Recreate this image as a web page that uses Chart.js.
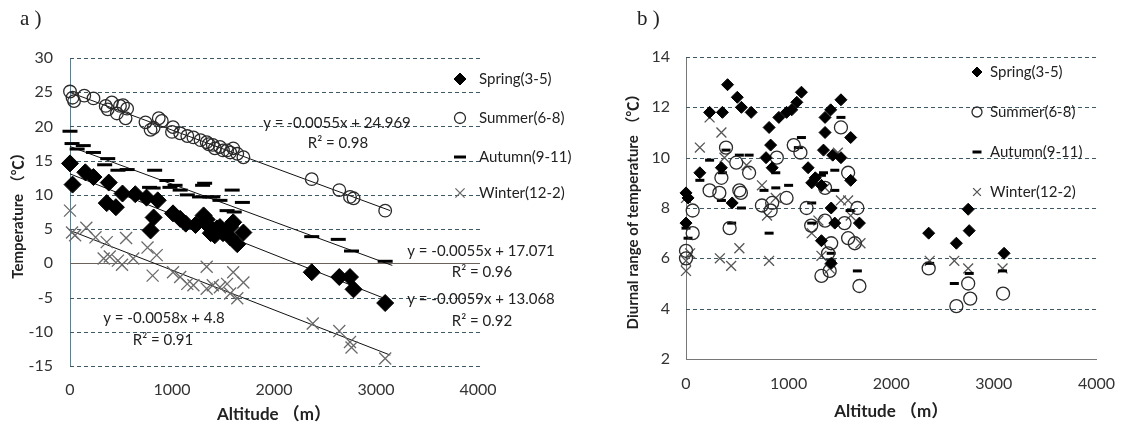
<!DOCTYPE html>
<html><head><meta charset="utf-8">
<script src="https://cdn.jsdelivr.net/npm/chart.js@4.4.1/dist/chart.umd.min.js"></script>
<style>
html,body{margin:0;padding:0;background:#fff;}
#wrap{position:relative;width:1130px;height:426px;overflow:hidden;}
#cA{position:absolute;left:0;top:0;}
#cB{position:absolute;left:600px;top:0;}
</style></head><body>
<div id="wrap"><canvas id="cA" width="600" height="426"></canvas><canvas id="cB" width="530" height="426"></canvas></div>
<script>
// ---------- Panel a) seasonal mean temperature vs altitude ----------
const springAltA = [0,25,150,230,380,360,450,515,640,750,860,820,790,1010,1080,1135,1230,1310,1340,1355,1380,1440,1470,1500,1570,1570,1600,1640,1700,1420,2370,2640,2745,2780,3090];
const springTempA = [14.6,11.5,13.3,12.6,11.8,8.8,8.2,10.2,10.1,9.6,9.2,6.7,4.8,7.3,6.5,5.8,5.6,7.0,6.4,5.5,4.4,5.1,5.3,4.4,3.8,5.3,6.0,2.8,4.5,4.1,-1.3,-2.0,-2.0,-3.8,-5.8];

const summerAltA = [0,25,40,140,230,350,370,410,460,490,520,545,560,740,790,820,870,900,1000,1010,1080,1150,1210,1280,1340,1360,1400,1420,1470,1500,1540,1570,1600,1640,1700,2370,2640,2745,2780,3090];
const summerTempA = [25.1,24.2,23.7,24.5,24.1,23.0,22.5,23.5,21.9,23.0,23.1,21.2,22.6,20.6,19.5,19.8,21.2,20.8,19.2,19.9,19.0,18.6,18.4,18.0,17.7,17.4,17.3,16.8,17.0,16.5,16.5,16.2,16.8,16.0,15.5,12.3,10.7,9.7,9.5,7.7];

const autumnAltA = [0,20,70,130,230,340,370,470,560,780,830,815,950,980,1030,1080,1150,1270,1300,1320,1370,1400,1470,1540,1590,1610,1690,2370,2630,2760,3090];
const autumnTempA = [19.3,17.5,16.7,17.2,16.2,14.4,15.3,13.6,13.7,11.1,13.6,11.0,12.1,11.1,11.4,10.7,10.0,9.7,11.4,11.7,9.7,9.7,9.2,7.7,10.7,7.5,8.9,3.9,3.5,1.8,0.3];

const winterAltA = [0,20,50,160,250,330,360,390,470,510,550,620,760,810,850,1010,1080,1150,1210,1340,1340,1400,1470,1540,1570,1600,1640,1700,2380,2640,2745,2760,3090];
const winterTempA = [7.7,4.5,4.1,5.2,3.8,0.7,3.1,1.0,0.4,-0.2,3.7,0.7,2.3,-1.8,1.2,-1.3,-2.0,-3.0,-3.2,-0.5,-3.7,-3.2,-3.5,-3.0,-4.4,-1.3,-5.1,-2.8,-8.8,-9.9,-11.5,-12.3,-13.9];

// linear trend lines (end points)
const summerTrendAlt = [0,3140];  const summerTrendT = [24.97,7.70];
const autumnTrendAlt = [0,3160];  const autumnTrendT = [17.07,-0.31];
const springTrendAlt = [0,3140];  const springTrendT = [13.07,-5.46];
const winterTrendAlt = [0,3140];  const winterTrendT = [4.80,-13.41];

const eqTextsA = ['y = -0.0055x + 24.969','R² = 0.98','y = -0.0055x + 17.071','R² = 0.96','y = -0.0059x + 13.068','R² = 0.92','y = -0.0058x + 4.8','R² = 0.91'];
const yTicksA = [-15,-10,-5,0,5,10,15,20,25,30];
const xTicks = [0,1000,2000,3000,4000];

// ---------- Panel b) diurnal temperature range vs altitude ----------
const springAltB = [0,20,0,135,230,355,405,500,540,635,345,450,780,810,825,840,905,980,1030,1080,1125,1190,1225,1260,1320,1340,1355,1355,1410,1510,1430,1510,1605,1605,1415,1450,1320,1415,1690,2365,2635,2750,2760,3100];
const springDtrB = [8.6,8.4,7.4,9.4,11.8,11.8,12.9,12.4,12.0,11.8,9.6,8.2,10.0,11.2,10.5,9.6,11.6,11.8,11.9,12.2,12.6,9.6,9.0,9.2,8.9,10.3,11.0,11.6,11.9,12.3,10.1,10.0,10.8,9.1,8.0,7.4,6.7,5.8,7.4,7.0,6.6,7.95,7.1,6.2];

const summerAltB = [0,0,65,65,230,325,345,390,425,490,520,535,615,740,825,840,885,980,1050,1115,1175,1220,1320,1355,1355,1385,1400,1415,1510,1545,1580,1580,1645,1670,1690,2365,2635,2750,2770,3090];
const summerDtrB = [6.3,6.0,7.9,7.0,8.7,8.6,9.2,10.4,7.2,9.8,8.7,8.6,9.4,8.1,7.9,8.2,10.0,8.4,10.5,10.2,8.0,7.3,5.3,7.5,8.8,6.2,5.5,6.6,11.2,7.4,9.4,6.8,6.6,8.0,4.9,5.6,4.1,5.0,4.4,4.6];

const autumnAltB = [0,20,135,230,345,355,390,445,520,540,615,760,810,875,875,1000,1095,1125,1225,1225,1320,1340,1415,1415,1450,1450,1510,1600,1670,2375,2615,2760,3085];
const autumnDtrB = [7.2,6.8,9.1,9.9,8.3,9.4,10.3,7.4,10.1,8.0,10.1,8.7,7.0,8.8,9.4,8.9,10.4,10.8,8.2,7.4,9.3,9.4,6.2,5.9,8.7,9.5,11.6,7.9,5.5,5.8,5.0,5.4,5.5];

const winterAltB = [0,0,0,40,135,230,345,330,375,440,520,590,740,790,810,875,1225,1290,1320,1355,1400,1480,1510,1580,1605,1700,2375,2615,2750,3085];
const winterDtrB = [8.4,5.5,5.9,6.2,10.4,11.6,11.0,6.0,10.0,5.7,6.4,9.7,8.9,7.7,5.9,8.4,7.0,7.5,6.1,8.8,5.6,10.2,8.3,8.3,7.7,6.6,5.9,5.9,5.6,5.6];

const yTicksB = [2,4,6,8,10,12,14];
const seasonLabels = ['Spring(3-5)','Summer(6-8)','Autumn(9-11)','Winter(12-2)'];

// ---------- helpers ----------
const pts = (xs, ys) => xs.map((v,i) => ({x:v, y:ys[i]}));
const FONT = 'Lato, "Noto Sans CJK SC", sans-serif';

const extras = {
  id:'extras',
  beforeDatasetsDraw(chart, args, o){
    const {ctx, chartArea:ca, scales:{y}} = chart;
    ctx.save();
    ctx.lineWidth = 1;
    y.ticks.forEach(t => {
      if (o.noGrid.includes(t.value)) return;
      const py = Math.round(y.getPixelForValue(t.value)) + 0.5;
      const solid = o.solidZero && t.value === 0;
      ctx.setLineDash(solid ? [] : [4,3]);
      ctx.strokeStyle = solid ? '#6b625c' : '#3f5866';
      ctx.beginPath(); ctx.moveTo(ca.left, py); ctx.lineTo(o.gridRight || ca.right, py); ctx.stroke();
    });
    ctx.restore();
  },
  afterDraw(chart, args, o){
    const {ctx, chartArea:ca} = chart;
    // legend markers
    o.legend.ys.forEach((ly, i) => {
      const ds = chart.data.datasets[i];
      ctx.save();
      ctx.fillStyle = ds.pointBackgroundColor;
      ctx.strokeStyle = ds.pointBorderColor;
      ctx.lineWidth = ds.pointBorderWidth;
      Chart.helpers.drawPoint(ctx, {pointStyle: ds.pointStyle, radius: o.legend.r[i], rotation:0, borderWidth: ds.pointBorderWidth}, o.legend.mx, ly);
      ctx.restore();
    });
    ctx.save();
    ctx.fillStyle = '#222';
    ctx.font = '21px "Liberation Serif", serif';
    ctx.textAlign = 'left'; ctx.textBaseline = 'middle';
    ctx.fillText(o.panel.text, o.panel.x, o.panel.y);
    ctx.font = 'bold ' + o.yTitle.size + 'px ' + FONT;
    ctx.textAlign = 'center';
    ctx.save();
    ctx.translate(o.yTitle.x, (ca.top + ca.bottom)/2);
    ctx.rotate(-Math.PI/2);
    ctx.fillText(o.yTitle.text, 0, 0);
    ctx.restore();
    ctx.font = 'bold 17px ' + FONT;
    ctx.fillText(o.xTitle.text, (ca.left + ca.right)/2, o.xTitle.y);
    ctx.font = '15px ' + FONT;
    ctx.textAlign = 'left';
    o.legend.ys.forEach((ly, i) => ctx.fillText(seasonLabels[i], o.legend.tx, ly));
    if (o.eqs) {
      ctx.textAlign = 'center';
      o.eqs.forEach(e => ctx.fillText(eqTextsA[e.i], e.x, e.y));
    }
    ctx.restore();
  }
};
Chart.register(extras);

function markerSets(sz){
  return [
    {pointStyle:'rectRot', radius:sz.d, backgroundColor:'#000', borderColor:'#000', borderWidth:1},
    {pointStyle:'circle', radius:sz.c, backgroundColor:'rgba(0,0,0,0)', borderColor:'#2a2a2a', borderWidth:1.3},
    {pointStyle:'line', radius:sz.l, backgroundColor:'#000', borderColor:'#000', borderWidth:3},
    {pointStyle:'crossRot', radius:sz.x, backgroundColor:sz.xc, borderColor:sz.xc, borderWidth:1.3}
  ];
}

function scatterDS(label, data, m){
  return {type:'scatter', label, data, showLine:false, clip:false,
    pointStyle:m.pointStyle, pointRadius:m.radius, pointHoverRadius:m.radius,
    pointBackgroundColor:m.backgroundColor, pointBorderColor:m.borderColor, pointBorderWidth:m.borderWidth,
    backgroundColor:m.backgroundColor, borderColor:m.borderColor, borderWidth:m.borderWidth};
}
function trendDS(data){
  return {type:'scatter', data, showLine:true, pointRadius:0, borderColor:'#111', borderWidth:1, clip:false};
}

const tickFont = {family: FONT, size: 16};
const plainTick = v => String(v);

// ---------- chart a ----------
const mA = markerSets({d:8.5, c:6.3, l:7.5, x:8.5, xc:'#6a6a6a'});
new Chart(document.getElementById('cA'), {
  type:'scatter',
  data:{datasets:[
    scatterDS(seasonLabels[0], pts(springAltA, springTempA), mA[0]),
    scatterDS(seasonLabels[1], pts(summerAltA, summerTempA), mA[1]),
    scatterDS(seasonLabels[2], pts(autumnAltA, autumnTempA), mA[2]),
    scatterDS(seasonLabels[3], pts(winterAltA, winterTempA), mA[3]),
    trendDS(pts(summerTrendAlt, summerTrendT)),
    trendDS(pts(autumnTrendAlt, autumnTrendT)),
    trendDS(pts(springTrendAlt, springTrendT)),
    trendDS(pts(winterTrendAlt, winterTrendT))
  ]},
  options:{
    responsive:false, animation:false, devicePixelRatio:1,
    layout:{padding:{left:0, top:58, right:122, bottom:0}},
    plugins:{legend:{display:false}, tooltip:{enabled:false},
      extras:{
        noGrid:[], solidZero:true, gridRight:480,
        panel:{text:'a )', x:20, y:19},
        yTitle:{text:'Temperature （℃）', x:18, size:15},
        xTitle:{text:'Altitude （m）', y:415},
        legend:{mx:460, tx:479, ys:[79,118,157,193], r:[6,5.5,6,6.5]},
        eqs:[{i:0,x:337,y:123},{i:1,x:338,y:143},{i:2,x:481,y:251},{i:3,x:482,y:272},
             {i:4,x:481,y:299},{i:5,x:482,y:321},{i:6,x:164,y:318},{i:7,x:163,y:340}]
      }},
    scales:{
      x:{type:'linear', min:0, max:4000, afterFit:s=>{s.height=60;},
        afterBuildTicks:s=>{s.ticks = xTicks.map(v=>({value:v}));},
        grid:{display:false, drawTicks:false}, border:{display:false},
        ticks:{font:tickFont, color:'#333', padding:14, maxRotation:0, callback:plainTick}},
      y:{type:'linear', min:-15, max:30, afterFit:s=>{s.width=70;},
        afterBuildTicks:s=>{s.ticks = yTicksA.map(v=>({value:v}));},
        grid:{display:false, drawTicks:false}, border:{display:true, color:'#5f7f8c', width:1},
        ticks:{font:tickFont, color:'#333', padding:17, callback:plainTick}}
    }
  }
});

// ---------- chart b ----------
const mB = markerSets({d:6, c:6.5, l:4.5, x:7, xc:'#555'});
new Chart(document.getElementById('cB'), {
  type:'scatter',
  data:{datasets:[
    scatterDS(seasonLabels[0], pts(springAltB, springDtrB), mB[0]),
    scatterDS(seasonLabels[1], pts(summerAltB, summerDtrB), mB[1]),
    scatterDS(seasonLabels[2], pts(autumnAltB, autumnDtrB), mB[2]),
    scatterDS(seasonLabels[3], pts(winterAltB, winterDtrB), mB[3])
  ]},
  options:{
    responsive:false, animation:false, devicePixelRatio:1,
    layout:{padding:{left:0, top:57, right:28, bottom:0}},
    plugins:{legend:{display:false}, tooltip:{enabled:false},
      extras:{
        noGrid:[2], solidZero:false,
        panel:{text:'b )', x:37, y:19},
        yTitle:{text:'Diurnal range of temperature （℃）', x:33, size:15},
        xTitle:{text:'Altitude （m）', y:412},
        legend:{mx:377, tx:390, ys:[72,112,152,192], r:[5,5,4.5,5.5]}
      }},
    scales:{
      x:{type:'linear', min:0, max:4000, afterFit:s=>{s.height=67;},
        afterBuildTicks:s=>{s.ticks = xTicks.map(v=>({value:v}));},
        grid:{display:false, drawTicks:false}, border:{display:true, color:'#777', width:1},
        ticks:{font:tickFont, color:'#333', padding:15, maxRotation:0, callback:plainTick}},
      y:{type:'linear', min:2, max:14, afterFit:s=>{s.width=86;},
        afterBuildTicks:s=>{s.ticks = yTicksB.map(v=>({value:v}));},
        grid:{display:false, drawTicks:false}, border:{display:true, color:'#777', width:1},
        ticks:{font:tickFont, color:'#333', padding:16, callback:plainTick}}
    }
  }
});
</script>
</body></html>
